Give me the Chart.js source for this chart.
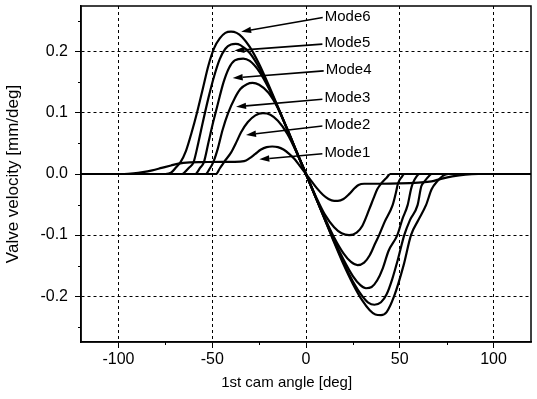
<!DOCTYPE html>
<html><head><meta charset="utf-8">
<script src="https://cdn.jsdelivr.net/npm/chart.js@4/dist/chart.umd.min.js"></script>
<style>html,body{margin:0;padding:0;background:#fff;}canvas{display:block;}</style>
</head><body>
<canvas id="c" width="537" height="399"></canvas>
<script>
// ---- tick values ----
const xTicks = [-100, -50, 0, 50, 100];
const yTicks = [-0.2, -0.1, 0.0, 0.1, 0.2];
const xMinorTicks = [-75, -25, 25, 75];
const yMinorTicks = [-0.25, -0.15, -0.05, 0.05, 0.15, 0.25];

// ---- series (1st cam angle [deg], valve velocity [mm/deg]) ----
const mode1X = [-120,-97,-92,-87,-82,-77,-72,-68,-62,-55,-45,-38,-33,-30,-27,-24,-21,-18,-15,-12,-9,-6,-3,0,3,6,9,12,15,17,20,23,26,28,31,40,50,60,67,72,78,85,92,120];
const mode1Y = [0,0,0.001,0.003,0.006,0.010,0.014,0.017,0.019,0.0195,0.020,0.020,0.021,0.026,0.033,0.040,0.044,0.045,0.044,0.040,0.033,0.024,0.012,0,-0.012,-0.024,-0.034,-0.041,-0.044,-0.044,-0.041,-0.033,-0.023,-0.018,-0.016,-0.016,-0.0155,-0.014,-0.012,-0.008,-0.004,-0.001,0,0];

const mode2X = [-120,-48,-46,-43.6,-40,-37,-34.7,-31,-27,-23,-19,-15,-10,-5,0,5,10,15,19,23,27,30,33.7,36,38,40,43,45,120];
const mode2Y = [0,0,0.009,0.020,0.035,0.053,0.068,0.085,0.096,0.0995,0.097,0.087,0.066,0.035,0,-0.035,-0.066,-0.087,-0.097,-0.100,-0.096,-0.085,-0.058,-0.040,-0.025,-0.016,-0.006,0,0];

const mode3X = [-120,-53.5,-51.5,-49.5,-47,-44.5,-41.5,-38,-35,-31.5,-28.5,-25,-20,-15,-10,-5,0,5,10,15,20,24,27.5,31,34,37,39,42,46.2,48,49,51,52.5,120];
const mode3Y = [0,0,0.008,0.019,0.042,0.072,0.100,0.124,0.139,0.147,0.149,0.146,0.133,0.108,0.074,0.037,0,-0.037,-0.072,-0.104,-0.130,-0.144,-0.149,-0.145,-0.133,-0.113,-0.100,-0.078,-0.051,-0.030,-0.016,-0.005,0,0];

const mode4X = [-120,-59,-58.5,-56.5,-54.5,-52,-49.5,-47,-44,-41,-38,-33.5,-30,-25,-20,-15,-10,-5,0,5,10,15,20,25,29,32,35,38,41,44,48.7,51.5,54.2,56,57,59,60.5,120];
const mode4Y = [0,0,0.001,0.010,0.019,0.052,0.085,0.115,0.150,0.174,0.186,0.189,0.185,0.168,0.141,0.108,0.073,0.036,0,-0.037,-0.073,-0.108,-0.140,-0.167,-0.182,-0.187,-0.185,-0.174,-0.154,-0.126,-0.100,-0.073,-0.051,-0.025,-0.015,-0.004,0,0];

const mode5X = [-120,-66,-65,-62.5,-60,-57.5,-55,-52,-49,-46,-43,-40,-37.5,-35,-30,-25,-20,-15,-10,-5,0,5,10,15,20,25,30,33,36.5,40,43,46,49,52.4,55.5,59.5,61.5,63,66,67,120];
const mode5Y = [0,0,0.002,0.010,0.019,0.050,0.085,0.125,0.160,0.188,0.205,0.212,0.213,0.211,0.198,0.174,0.143,0.109,0.073,0.036,0,-0.037,-0.074,-0.110,-0.145,-0.176,-0.200,-0.210,-0.214,-0.210,-0.197,-0.172,-0.140,-0.100,-0.075,-0.051,-0.020,-0.013,-0.002,0,0];

const mode6X = [-120,-75,-72,-69,-67,-64,-61,-58,-55,-52,-49,-46,-43,-40,-37,-34,-30,-25,-20,-15,-10,-5,0,5,10,15,20,25,30,34,37,40,43,47,52,56,60,64,67,70,73,76,120];
const mode6Y = [0,0,0.002,0.012,0.019,0.038,0.068,0.102,0.140,0.178,0.206,0.222,0.231,0.233,0.231,0.224,0.208,0.180,0.146,0.110,0.073,0.036,0,-0.037,-0.074,-0.112,-0.148,-0.180,-0.207,-0.223,-0.230,-0.231,-0.226,-0.200,-0.150,-0.100,-0.075,-0.051,-0.025,-0.012,-0.003,0,0];

const seriesNames = ['Mode1','Mode2','Mode3','Mode4','Mode5','Mode6'];
const seriesX = [mode1X, mode2X, mode3X, mode4X, mode5X, mode6X];
const seriesY = [mode1Y, mode2Y, mode3Y, mode4Y, mode5Y, mode6Y];

// label text anchor (data units) and arrow tip (data units)
const labelTextX = [9.8, 9.8, 9.8, 10.5, 9.8, 10.0];
const labelTextY = [0.0349, 0.0803, 0.1241, 0.1705, 0.2143, 0.2579];
const arrowTipX = [-24.9, -32.0, -37.3, -39.1, -38.2, -34.6];
const arrowTipY = [0.024, 0.064, 0.110, 0.157, 0.202, 0.233];

const FONT = "'Liberation Sans', Arial, sans-serif";

const datasets = seriesNames.map((name, k) => ({
  label: name,
  data: seriesX[k].map((x, i) => ({x: x, y: seriesY[k][i]})),
  showLine: true,
  borderColor: '#000',
  backgroundColor: '#000',
  borderWidth: 2.2,
  pointRadius: 0,
  cubicInterpolationMode: 'monotone',
  fill: false
}));

const framePlugin = {
  id: 'frame',
  afterDraw(chart) {
    const {ctx, chartArea: a, scales: {x, y}} = chart;
    ctx.save();
    ctx.strokeStyle = '#000';
    ctx.lineWidth = 1;
    xMinorTicks.forEach(v => {
      const px = Math.round(x.getPixelForValue(v)) + 0.5;
      ctx.beginPath(); ctx.moveTo(px, a.bottom); ctx.lineTo(px, a.bottom + 3); ctx.stroke();
    });
    yMinorTicks.forEach(v => {
      const py = Math.round(y.getPixelForValue(v)) + 0.5;
      ctx.beginPath(); ctx.moveTo(a.left, py); ctx.lineTo(a.left - 3, py); ctx.stroke();
    });
    ctx.lineWidth = 1.5;
    ctx.strokeRect(a.left, a.top, a.right - a.left, a.bottom - a.top);

    // annotations with arrows
    ctx.font = '15px ' + FONT;
    ctx.fillStyle = '#000';
    ctx.textAlign = 'left';
    ctx.textBaseline = 'middle';
    seriesNames.forEach((name, k) => {
      const tx = x.getPixelForValue(labelTextX[k]);
      const ty = y.getPixelForValue(labelTextY[k]);
      ctx.fillText(name, tx, ty);
      const sx = tx - 2, sy = ty + 1;
      const ex = x.getPixelForValue(arrowTipX[k]);
      const ey = y.getPixelForValue(arrowTipY[k]);
      const ang = Math.atan2(ey - sy, ex - sx);
      const hl = 10, hw = 3.2;
      const bx = ex - hl * Math.cos(ang), by = ey - hl * Math.sin(ang);
      ctx.lineWidth = 1.6;
      ctx.beginPath(); ctx.moveTo(sx, sy); ctx.lineTo(bx, by); ctx.stroke();
      ctx.beginPath();
      ctx.moveTo(ex, ey);
      ctx.lineTo(bx + hw * Math.sin(ang), by - hw * Math.cos(ang));
      ctx.lineTo(bx - hw * Math.sin(ang), by + hw * Math.cos(ang));
      ctx.closePath(); ctx.fill();
    });

    // x axis title
    ctx.font = '15px ' + FONT;
    ctx.textAlign = 'center';
    ctx.textBaseline = 'middle';
    ctx.fillText('1st cam angle [deg]', a.left + (a.right - a.left) * 0.457, 383);
    ctx.restore();
  }
};

new Chart(document.getElementById('c'), {
  type: 'scatter',
  data: {datasets},
  options: {
    responsive: false,
    animation: false,
    devicePixelRatio: 1,
    layout: {padding: {top: 6, right: 6, left: 0, bottom: 0}},
    plugins: {legend: {display: false}, tooltip: {enabled: false}},
    scales: {
      x: {
        type: 'linear', min: -120, max: 120,
        afterBuildTicks: s => { s.ticks = xTicks.map(v => ({value: v})); },
        afterFit: s => { s.height = 57; s.paddingLeft = 0; s.paddingRight = 0; },
        ticks: {color: '#000', font: {family: FONT, size: 16}, padding: 2, maxRotation: 0,
                callback: v => String(v)},
        grid: {color: '#000', lineWidth: 1, tickLength: 6, tickColor: '#000', tickWidth: 1},
        border: {display: true, color: '#000', width: 1.5, dash: [3, 3]},
        title: {display: false}
      },
      y: {
        type: 'linear', min: -0.275, max: 0.275,
        afterBuildTicks: s => { s.ticks = yTicks.map(v => ({value: v})); },
        afterFit: s => { s.width = 81; s.paddingTop = 0; s.paddingBottom = 0; },
        ticks: {color: '#000', font: {family: FONT, size: 16}, padding: 7,
                callback: v => (Math.abs(v) < 1e-9 ? 0 : v).toFixed(1)},
        grid: {color: '#000', lineWidth: 1, tickLength: 6, tickColor: '#000', tickWidth: 1},
        border: {display: true, color: '#000', width: 1.5, dash: [3, 3]},
        title: {display: true, text: 'Valve velocity [mm/deg]', color: '#000',
                font: {family: FONT, size: 17}, padding: {top: 3, bottom: 0}}
      }
    }
  },
  plugins: [framePlugin]
});
</script>
</body></html>
